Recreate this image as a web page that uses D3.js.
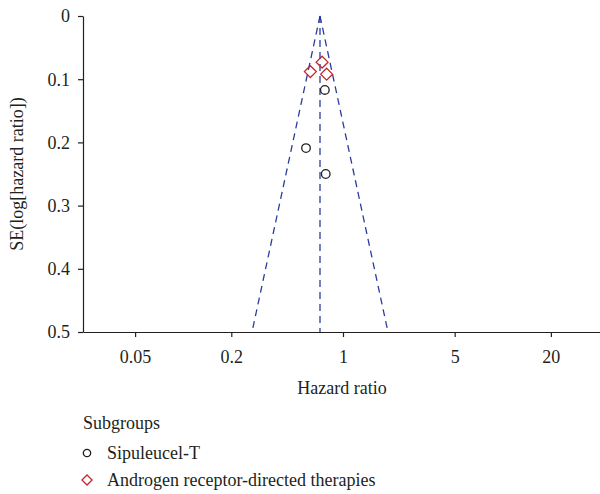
<!DOCTYPE html>
<html>
<head>
<meta charset="utf-8">
<script src="https://cdn.jsdelivr.net/npm/d3@7"></script>
<style>
  body { margin: 0; background: #fff; }
</style>
</head>
<body>
<svg id="chart" width="600" height="494"></svg>
<script>
// hazard ratios and standard errors
const sipuleucelHR = [0.77, 0.587, 0.78];
const sipuleucelSE = [0.117, 0.209, 0.25];
const androgenHR = [0.74, 0.625, 0.79];
const androgenSE = [0.073, 0.088, 0.092];
const pooledHR = 0.718;
const xTicks = [0.05, 0.2, 1, 5, 20];
const yTicks = [0, 0.1, 0.2, 0.3, 0.4, 0.5];
const legendLabels = ["Sipuleucel-T", "Androgen receptor-directed therapies"];

const font = "Liberation Serif";
const fontSize = 18; // bigger sizes fall back to a sans face here
const ink = "#231f20";

const svg = d3.select("#chart");
const plotLeft = 83, plotRight = 600, plotTop = 16, plotBottom = 332;

const x = d3.scaleLog().domain([0.0236, 40.6]).range([plotLeft, plotRight]);
const y = d3.scaleLinear().domain([0, 0.5]).range([plotTop, plotBottom]);

function styleText(t) {
    return t.attr("font-family", font)
        .attr("font-size", fontSize)
        .attr("fill", ink);
}

// axes
const xAxis = svg.append("g")
    .attr("transform", `translate(0,${plotBottom})`)
    .call(d3.axisBottom(x).tickValues(xTicks).tickFormat(d => d).tickSize(5).tickSizeOuter(0));
const yAxis = svg.append("g")
    .attr("transform", `translate(${plotLeft},0)`)
    .call(d3.axisLeft(y).tickValues(yTicks).tickFormat(d => d).tickSize(5).tickSizeOuter(0));

[xAxis, yAxis].forEach(a => {
    a.attr("font-family", font).attr("font-size", fontSize);
    a.select(".domain").attr("stroke", ink).attr("stroke-width", 1.2);
    a.selectAll(".tick line").attr("stroke", ink).attr("stroke-width", 1.2);
    styleText(a.selectAll(".tick text"));
});
xAxis.selectAll(".tick text").attr("y", 0).attr("dy", 31);
yAxis.selectAll(".tick text").attr("x", -13).attr("dy", "0.33em");

styleText(svg.append("text"))
    .attr("x", 342)
    .attr("y", 394)
    .attr("text-anchor", "middle")
    .text("Hazard ratio");

styleText(svg.append("text"))
    .attr("transform", `translate(23,${(plotTop + plotBottom) / 2}) rotate(-90)`)
    .attr("text-anchor", "middle")
    .text("SE(log[hazard ratio])");

// funnel
const blue = "#2a3c9c";
const lnP = Math.log(pooledHR);
const seMax = 0.5;
const funnel = [
    [[pooledHR, 0], [Math.exp(lnP - 1.96 * seMax), seMax]],
    [[pooledHR, 0], [Math.exp(lnP + 1.96 * seMax), seMax]],
    [[pooledHR, 0], [pooledHR, seMax]]
];
svg.selectAll(".funnel")
    .data(funnel)
    .enter()
    .append("line")
    .attr("class", "funnel")
    .attr("x1", d => x(d[0][0]))
    .attr("y1", d => y(d[0][1]))
    .attr("x2", d => x(d[1][0]))
    .attr("y2", d => y(d[1][1]))
    .attr("stroke", blue)
    .attr("stroke-width", 1.3)
    .attr("stroke-dasharray", "7,5");

// points
const sip = sipuleucelHR.map((h, i) => ({ hr: h, se: sipuleucelSE[i] }));
const andr = androgenHR.map((h, i) => ({ hr: h, se: androgenSE[i] }));

svg.selectAll(".sip")
    .data(sip)
    .enter()
    .append("circle")
    .attr("class", "sip")
    .attr("cx", d => x(d.hr))
    .attr("cy", d => y(d.se))
    .attr("r", 4.3)
    .attr("fill", "none")
    .attr("stroke", ink)
    .attr("stroke-width", 1.3);

const diamond = d3.symbol().type(d3.symbolDiamond2).size(90);
svg.selectAll(".andr")
    .data(andr)
    .enter()
    .append("path")
    .attr("class", "andr")
    .attr("d", diamond)
    .attr("transform", d => `translate(${x(d.hr)},${y(d.se)})`)
    .attr("fill", "none")
    .attr("stroke", "#c4262e")
    .attr("stroke-width", 1.3);

// legend
styleText(svg.append("text"))
    .attr("x", 83)
    .attr("y", 429)
    .text("Subgroups");

const legend = svg.selectAll(".legend")
    .data(legendLabels)
    .enter()
    .append("g")
    .attr("class", "legend")
    .attr("transform", (d, i) => `translate(87,${453 + i * 27})`);

legend.filter((d, i) => i === 0).append("circle")
    .attr("r", 3.7)
    .attr("fill", "none")
    .attr("stroke", ink)
    .attr("stroke-width", 1.3);
legend.filter((d, i) => i === 1).append("path")
    .attr("d", d3.symbol().type(d3.symbolDiamond2).size(65))
    .attr("fill", "none")
    .attr("stroke", "#c4262e")
    .attr("stroke-width", 1.3);

styleText(legend.append("text"))
    .attr("x", 20)
    .attr("dy", 6)
    .text(d => d);
</script>
</body>
</html>
